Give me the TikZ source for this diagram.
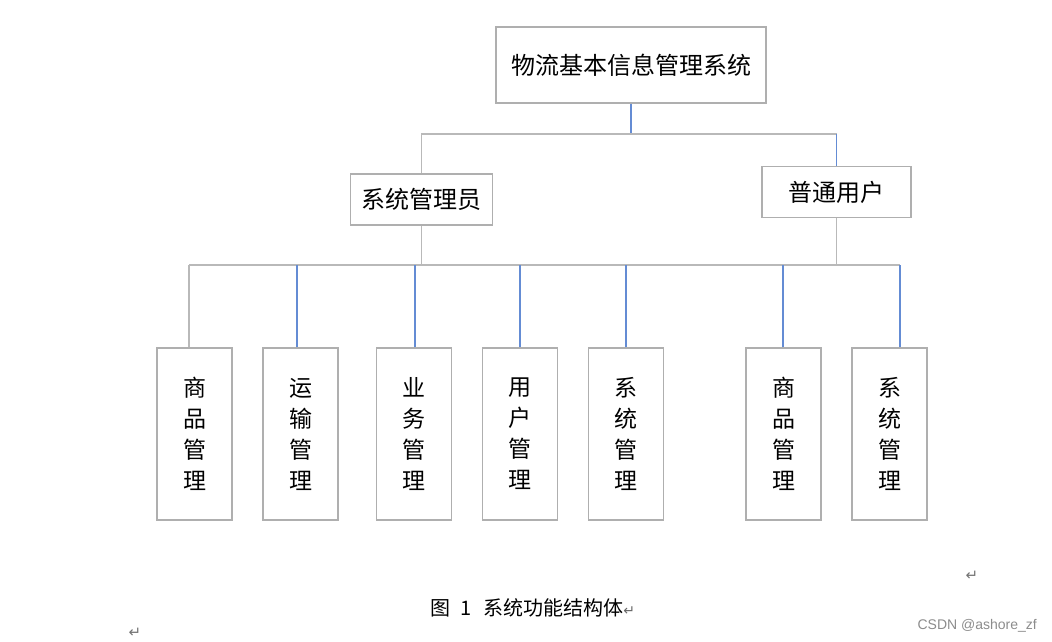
\documentclass[tikz,border=0pt]{standalone}
\usepackage{fontspec}
\usepackage{xcolor}
\usepackage{tikz}
\usetikzlibrary{shapes.geometric, arrows}
\newfontfamily\cjk{Noto Sans CJK SC}
\newfontfamily\wmfont{Liberation Sans}
\newfontfamily\markfont{DejaVu Sans}
\definecolor{boxgray}{RGB}{175,175,175}
\definecolor{linegray}{RGB}{185,185,185}
\definecolor{lineblue}{RGB}{100,140,212}
\tikzstyle{sysbox} = [rectangle, 
minimum width=270pt, 
minimum height=76pt, 
text centered, 
draw=boxgray, line width=1.2pt, 
font=\cjk\fontsize{24}{31}\selectfont]
\tikzstyle{rolebox} = [rectangle, 
minimum height=51pt, 
text centered, 
draw=boxgray, line width=1.2pt, 
font=\cjk\fontsize{24}{31}\selectfont]
\tikzstyle{leafbox} = [rectangle, 
minimum width=75pt, 
minimum height=172pt, 
align=center, 
draw=boxgray, line width=1.2pt, 
font=\cjk\fontsize{23}{31}\selectfont]
\tikzstyle{grayline} = [draw=linegray, line width=1.3pt]
\tikzstyle{blueline} = [draw=lineblue, line width=1.3pt]
\tikzstyle{retmark} = [text=black!55, inner sep=0pt, font=\markfont\fontsize{15}{15}\selectfont]

\begin{document}
\begin{tikzpicture}[x=1pt, y=-1pt]
\useasboundingbox (0,0) rectangle (1052,642);

\node (sys) [sysbox] at (631,65) {物流基本信息管理系统};
\node (admin) [rolebox, minimum width=142pt] at (421.5,199.5) {系统管理员};
\node (user) [rolebox, minimum width=149pt] at (836.5,192) {普通用户};

\node (goodsA) [leafbox] at (194.5,434) {商\\品\\管\\理};
\node (ship) [leafbox] at (300.5,434) {运\\输\\管\\理};
\node (biz) [leafbox] at (414,434) {业\\务\\管\\理};
\node (usermgr) [leafbox] at (520,434) {用\\户\\管\\理};
\node (sysA) [leafbox] at (626,434) {系\\统\\管\\理};
\node (goodsB) [leafbox] at (783.5,434) {商\\品\\管\\理};
\node (sysB) [leafbox] at (889.5,434) {系\\统\\管\\理};

\coordinate (busA) at (0,134);
\coordinate (busB) at (0,265);

\draw [blueline] (sys.south) -- (sys.south |- busA);
\draw [grayline] (admin.north) -- (admin.north |- busA) -- (user.north |- busA);
\draw [blueline] (user.north |- busA) -- (user.north);

\draw [grayline] (admin.south) -- (admin.south |- busB);
\draw [grayline] (user.south) -- (user.south |- busB);
\draw [grayline] ([xshift=-5.5pt]goodsA.north |- busB) -- ([xshift=10.5pt]sysB.north |- busB);

\draw [grayline] ([xshift=-5.5pt]goodsA.north) -- ([xshift=-5.5pt]goodsA.north |- busB);
\draw [blueline] ([xshift=-3.5pt]ship.north) -- ([xshift=-3.5pt]ship.north |- busB);
\draw [blueline] ([xshift=1pt]biz.north) -- ([xshift=1pt]biz.north |- busB);
\draw [blueline] (usermgr.north) -- (usermgr.north |- busB);
\draw [blueline] (sysA.north) -- (sysA.north |- busB);
\draw [blueline] ([xshift=-0.5pt]goodsB.north) -- ([xshift=-0.5pt]goodsB.north |- busB);
\draw [blueline] ([xshift=10.5pt]sysB.north) -- ([xshift=10.5pt]sysB.north |- busB);

% caption and page marks
\node (caption) [anchor=west, inner sep=0pt, font=\cjk\fontsize{20}{20}\selectfont] at (430,608) {图\hspace{10pt}1\hspace{12pt}系统功能结构体{\markfont\fontsize{14}{14}\selectfont\color{black!60}↵}};
\node (markA) [retmark] at (972,576) {↵};
\node (markB) [retmark] at (135,633) {↵};
\node (watermark) [anchor=east, inner sep=0pt, text=black!45, font=\wmfont\fontsize{14}{14}\selectfont] at (1037,626) {CSDN @ashore\_zf};

\end{tikzpicture}
\end{document}
